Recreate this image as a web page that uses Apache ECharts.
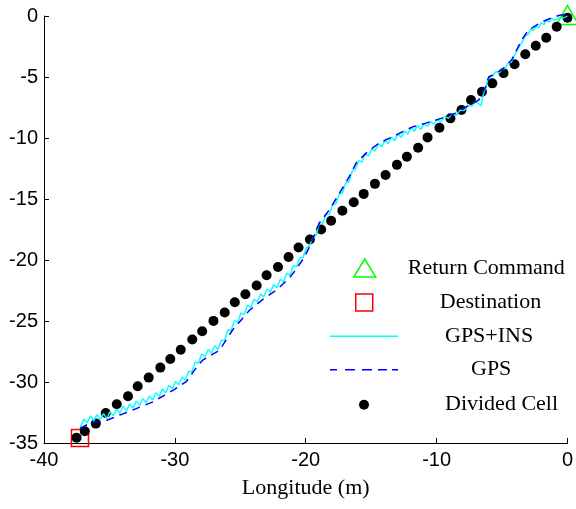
<!DOCTYPE html>
<html><head><meta charset="utf-8">
<script src="https://cdn.jsdelivr.net/npm/echarts@6/dist/echarts.min.js"></script>
<style>html,body{margin:0;padding:0;background:#fff}#c{width:576px;height:509px}</style>
</head><body><div id="c"></div>
<script>
// Divided cell centres (m)
const cellX = [-37.51,-36.88,-36.04,-35.28,-34.44,-33.58,-32.84,-32.00,-31.11,-30.35,-29.55,-28.67,-27.91,-27.05,-26.19,-25.42,-24.61,-23.75,-22.99,-22.12,-21.31,-20.55,-19.68,-18.82,-18.06,-17.20,-16.33,-15.57,-14.71,-13.90,-13.03,-12.27,-11.41,-10.69,-9.78,-8.94,-8.10,-7.37,-6.53,-5.74,-4.88,-4.04,-3.22,-2.42,-1.62,-0.82,0.00];
const cellY = [-34.56,-34.04,-33.41,-32.54,-31.83,-31.17,-30.35,-29.64,-28.82,-28.11,-27.36,-26.52,-25.84,-24.99,-24.31,-23.46,-22.81,-22.09,-21.25,-20.57,-19.75,-18.97,-18.32,-17.50,-16.79,-15.97,-15.26,-14.58,-13.76,-13.04,-12.20,-11.54,-10.80,-9.95,-9.16,-8.39,-7.71,-6.89,-6.21,-5.52,-4.68,-3.96,-3.14,-2.44,-1.78,-0.88,-0.15];
const returnCmd = [[0, 0]];
const destination = [[-37.25, -34.6]];
// GPS track
const gpsPath = [[-37.26,-33.80],[-36.50,-33.39],[-35.20,-33.14],[-34.06,-32.65],[-32.91,-32.16],[-31.77,-31.67],[-30.93,-31.17],[-30.02,-30.60],[-29.10,-29.94],[-28.34,-28.79],[-27.89,-28.22],[-26.59,-27.40],[-25.60,-25.76],[-24.30,-24.12],[-23.16,-23.13],[-22.25,-22.48],[-21.26,-21.49],[-20.72,-20.75],[-20.11,-19.77],[-19.73,-18.95],[-18.97,-16.98],[-18.21,-15.91],[-17.60,-14.85],[-16.69,-13.21],[-16.15,-12.06],[-15.39,-11.24],[-14.40,-10.42],[-13.10,-9.76],[-11.89,-9.11],[-10.82,-8.78],[-9.60,-8.37],[-8.53,-7.96],[-7.77,-7.47],[-6.78,-6.89],[-6.25,-5.82],[-6.02,-5.00],[-5.03,-4.43],[-4.27,-3.61],[-3.50,-1.97],[-2.97,-1.15],[-1.98,-0.49],[-1.22,-0.16],[-0.53,0.08],[0.00,0.08]];
// GPS+INS track
const insPath = [[-37.22,-33.70],[-36.95,-33.03],[-36.70,-33.35],[-36.45,-32.78],[-36.20,-33.18],[-35.95,-32.68],[-35.70,-33.09],[-35.45,-32.59],[-35.20,-32.99],[-34.95,-32.43],[-34.70,-32.77],[-34.45,-32.22],[-34.20,-32.56],[-33.95,-32.00],[-33.70,-32.35],[-33.45,-31.79],[-33.20,-32.13],[-32.95,-31.57],[-32.70,-31.92],[-32.45,-31.36],[-32.20,-31.70],[-31.95,-31.15],[-31.70,-31.48],[-31.45,-30.88],[-31.20,-31.18],[-30.95,-30.58],[-30.70,-30.88],[-30.45,-30.27],[-30.20,-30.56],[-29.95,-29.95],[-29.70,-30.22],[-29.45,-29.59],[-29.20,-29.86],[-28.95,-29.11],[-28.70,-29.18],[-28.45,-28.36],[-28.20,-28.46],[-27.95,-27.69],[-27.70,-27.95],[-27.45,-27.34],[-27.20,-27.64],[-26.95,-27.03],[-26.70,-27.32],[-26.45,-26.57],[-26.20,-26.61],[-25.95,-25.74],[-25.70,-25.78],[-25.45,-24.97],[-25.20,-25.10],[-24.95,-24.34],[-24.70,-24.47],[-24.45,-23.71],[-24.20,-23.88],[-23.95,-23.21],[-23.70,-23.45],[-23.45,-22.78],[-23.20,-23.01],[-22.95,-22.38],[-22.70,-22.65],[-22.45,-22.02],[-22.20,-22.28],[-21.95,-21.58],[-21.70,-21.78],[-21.45,-21.08],[-21.20,-21.26],[-20.95,-20.47],[-20.70,-20.55],[-20.45,-19.80],[-20.20,-19.80],[-19.95,-19.00],[-19.70,-18.80],[-19.45,-18.20],[-19.20,-17.97],[-18.95,-16.94],[-18.70,-17.00],[-18.45,-16.25],[-18.20,-16.28],[-17.95,-15.46],[-17.70,-15.42],[-17.45,-14.58],[-17.20,-14.53],[-16.95,-13.68],[-16.70,-13.63],[-16.45,-12.70],[-16.20,-12.57],[-15.95,-11.84],[-15.70,-11.97],[-15.45,-11.30],[-15.20,-11.48],[-14.95,-10.88],[-14.70,-11.07],[-14.45,-10.46],[-14.20,-10.72],[-13.95,-10.19],[-13.70,-10.46],[-13.45,-9.94],[-13.20,-10.21],[-12.95,-9.68],[-12.70,-9.95],[-12.45,-9.41],[-12.20,-9.68],[-11.95,-9.14],[-11.70,-9.45],[-11.45,-8.97],[-11.20,-9.30],[-10.95,-8.82],[-10.70,-9.04],[-10.45,-8.66],[-10.20,-8.87],[-9.95,-8.49],[-9.70,-8.70],[-9.40,-8.25],[-9.10,-8.38],[-8.80,-8.02],[-8.50,-8.14],[-8.20,-7.71],[-7.90,-7.75],[-7.60,-7.33],[-7.30,-7.39],[-7.00,-6.98],[-6.60,-7.35],[-6.40,-6.30],[-6.25,-5.90],[-6.10,-5.20],[-5.95,-5.05],[-5.70,-4.90],[-5.45,-4.55],[-5.20,-4.65],[-4.95,-4.35],[-4.75,-4.30],[-4.50,-3.80],[-4.30,-3.80],[-4.05,-3.25],[-3.85,-2.85],[-3.70,-2.95],[-3.50,-2.20],[-3.35,-2.15],[-3.20,-1.60],[-3.00,-1.55],[-2.80,-1.05],[-2.60,-1.20],[-2.40,-0.85],[-2.20,-0.95],[-2.00,-0.55],[-1.80,-0.70],[-1.60,-0.35],[-1.40,-0.50],[-1.20,-0.20],[-1.00,-0.35],[-0.70,-0.15],[-0.40,-0.22],[0.00,0.00]];
const legendNames = ['Return Command','Destination','GPS+INS','GPS','Divided Cell'];

const cellData = cellX.map((x, i) => [x, cellY[i]]);
const chart = echarts.init(document.getElementById('c'), null, {renderer: 'canvas'});

const serif = 'Liberation Serif, Times New Roman, serif';
const sans = 'Liberation Sans, Arial, sans-serif';
function leg(item, left, top, w, h, pad) {
  return {
    orient: 'vertical', left: left, top: top, padding: 0, itemWidth: w, itemHeight: h,
    selectedMode: false, symbolKeepAspect: false,
    textStyle: {fontFamily: serif, fontSize: 22, color: '#000', lineHeight: 18, padding: [0, 0, 0, pad]},
    data: [item]
  };
}
const solidIcon = 'path://M0,0H68V1H0Z';
const dashIcon = 'path://M0,0H7V1H0Z M15,0H25V1H15Z M32,0H42V1H32Z M48,0H57V1H48Z M62,0H68V1H62Z';
const option = {
  animation: false,
  backgroundColor: '#fff',
  grid: {left: 44, right: 7, top: 16, bottom: 66, containLabel: false},
  xAxis: {
    type: 'value', min: -40, max: 0, interval: 10,
    name: 'Longitude (m)', nameLocation: 'middle', nameGap: 34,
    nameTextStyle: {fontFamily: serif, fontSize: 22, color: '#000'},
    axisLine: {onZero: false, lineStyle: {color: '#000', width: 1}},
    axisTick: {inside: true, length: 5, lineStyle: {color: '#000'}},
    axisLabel: {fontFamily: sans, fontSize: 20, color: '#000', margin: 7},
    splitLine: {show: false}
  },
  yAxis: {
    type: 'value', min: -35, max: 0, interval: 5,
    axisLine: {show: true, onZero: false, lineStyle: {color: '#000', width: 1}},
    axisTick: {show: true, inside: true, length: 5, lineStyle: {color: '#000'}},
    axisLabel: {fontFamily: sans, fontSize: 20, color: '#000', margin: 6},
    splitLine: {show: false}
  },
  legend: [
    leg({name: legendNames[0], icon: 'triangle', itemStyle: {color: 'rgba(0,0,0,0)', borderColor: '#00ff00', borderWidth: 1.5}}, 353, 257, 22, 18, 27),
    leg({name: legendNames[1], icon: 'rect', itemStyle: {color: 'rgba(0,0,0,0)', borderColor: '#ff0000', borderWidth: 1.5}}, 355, 291.5, 17, 17, 62),
    leg({name: legendNames[2], icon: solidIcon, itemStyle: {color: '#00ffff', borderWidth: 0}}, 330, 325.3, 68, 1.5, 42),
    leg({name: legendNames[3], icon: dashIcon, itemStyle: {color: '#0000ff', borderWidth: 0}}, 330, 358.7, 68, 1.5, 68),
    leg({name: legendNames[4], icon: 'circle', itemStyle: {color: '#000', opacity: 1}}, 359, 393.7, 10, 10, 71)
  ],
  series: [
    {name: legendNames[0], type: 'scatter', data: returnCmd, symbol: 'triangle', symbolSize: [22, 19], symbolOffset: [0, -1],
     clip: false, itemStyle: {color: 'rgba(0,0,0,0)', borderColor: '#00ff00', borderWidth: 1.5, opacity: 1}},
    {name: legendNames[1], type: 'scatter', data: destination, symbol: 'rect', symbolSize: 17,
     clip: false, itemStyle: {color: 'rgba(0,0,0,0)', borderColor: '#ff0000', borderWidth: 1.5, opacity: 1}},
    {name: legendNames[2], type: 'line', data: insPath, symbol: 'none', showSymbol: false, clip: false,
     lineStyle: {color: '#00ffff', width: 1.4}, itemStyle: {color: '#00ffff'}},
    {name: legendNames[3], type: 'line', data: gpsPath, symbol: 'none', showSymbol: false, clip: false,
     lineStyle: {color: '#0000ff', width: 1.5, type: [8, 6]}, itemStyle: {color: '#0000ff'}},
    {name: legendNames[4], type: 'scatter', data: cellData, symbol: 'circle', symbolSize: 10,
     clip: false, itemStyle: {color: '#000', opacity: 1}}
  ]
};
chart.setOption(option);
</script>
</body></html>
